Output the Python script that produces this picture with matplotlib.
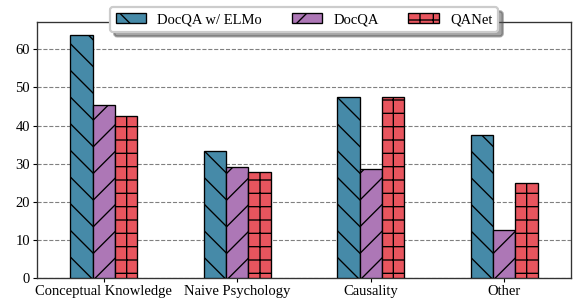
import numpy as np
import matplotlib
matplotlib.use("Agg")
import matplotlib.pyplot as plt

plt.rcParams['font.family'] = ['Liberation Serif', 'DejaVu Serif']
plt.rcParams['hatch.linewidth'] = 0.6

# data
categories = ['Conceptual Knowledge', 'Naive Psychology', 'Causality', 'Other']
elmo = [63.7, 33.3, 47.6, 37.5]
docqa = [45.4, 29.0, 28.6, 12.5]
qanet = [42.4, 27.8, 47.6, 25.0]
series_names = ['DocQA w/ ELMo', 'DocQA', 'QANet']

colors = ['#468AA8', '#AD77B6', '#E8555E']
hatches = ['\\\\', '//', '++']

dpi = 160
fig = plt.figure(figsize=(573 / dpi, 299 / dpi), dpi=dpi)
ax = fig.add_axes([0.0646, 0.0712, 0.932, 0.855])

x = np.arange(len(categories))
w = 0.167
for i, vals in enumerate([elmo, docqa, qanet]):
    ax.bar(x + (i - 1) * w, vals, w, color=colors[i], edgecolor='black',
           linewidth=0.6, hatch=hatches[i], label=series_names[i], zorder=3)

fs = 6.6
ax.set_xticks(x)
ax.set_xticklabels(categories, fontsize=fs)
ax.tick_params(axis='y', labelsize=fs)
ax.tick_params(length=1.6, width=0.5, pad=1.6)
ax.set_xlim(-0.5, 3.5)
ax.set_ylim(0, 67.2)
ax.set_yticks([0, 10, 20, 30, 40, 50, 60])
ax.grid(axis='y', linestyle='--', color='gray', linewidth=0.5, zorder=0)
for s in ax.spines.values():
    s.set_linewidth(0.6)
    s.set_color('#333333')

ax.legend(loc='upper center', bbox_to_anchor=(0.5, 1.088), ncol=3,
          fontsize=fs, shadow=True, fancybox=True, handlelength=2.1,
          columnspacing=2.0, borderpad=0.4, handletextpad=0.75)

fig.savefig('out.png', dpi=dpi)
